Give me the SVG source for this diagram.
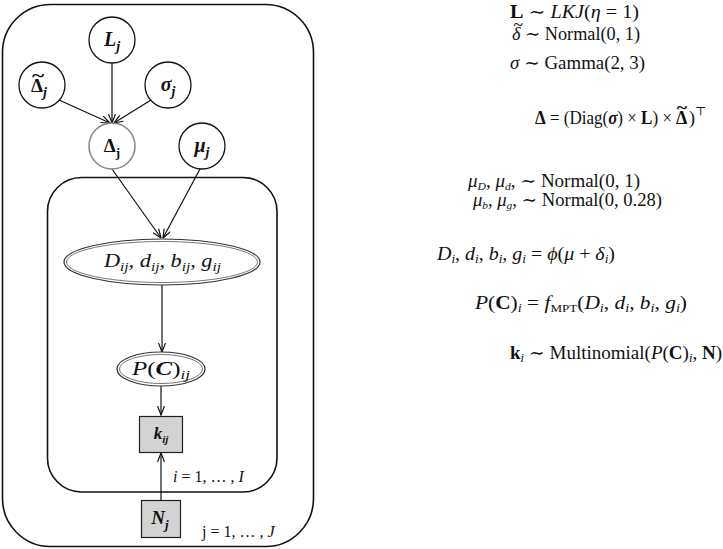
<svg xmlns="http://www.w3.org/2000/svg" width="723" height="549" viewBox="0 0 723 549">
  <style>
    .plate { fill: none; stroke: #111; stroke-width: 1.6; }
    .node { fill: #fff; stroke: #111; stroke-width: 1.3; }
    .node-grey { fill: #fff; stroke: #8a8a8a; stroke-width: 1.6; }
    .dbl-out { fill: #fff; stroke: #333; stroke-width: 1.2; }
    .dbl-in { fill: none; stroke: #777; stroke-width: 1; }
    .obs { fill: #d3d3d3; stroke: #222; stroke-width: 1.2; }
    .edge { stroke: #111; stroke-width: 1.2; fill: none; marker-end: url(#arrow); }
    .lbl { font-family: "Liberation Serif", "DejaVu Serif", serif; fill: #111; }
    .bi { font-weight: bold; font-style: italic; }
    .it { font-style: italic; }
    .b { font-weight: bold; }
    .eq { font-family: "Liberation Serif", "DejaVu Serif", serif; font-size: 18px; fill: #111; }
  </style>
  <defs>
    <marker id="arrow" viewBox="0 0 10 8" refX="9.5" refY="4" markerWidth="10" markerHeight="8" markerUnits="userSpaceOnUse" orient="auto">
      <path d="M0.5,0.5 L9.5,4 L0.5,7.5" fill="none" stroke="#111" stroke-width="1.2"/>
    </marker>
  </defs>

  <!-- plates -->
  <g id="plate-j">
    <rect class="plate" x="2.5" y="4.5" width="311" height="542" rx="48" ry="48"/>
    <text class="lbl" x="202" y="537" font-size="16">j = 1, … , <tspan class="it">J</tspan></text>
  </g>
  <g id="plate-i">
    <rect class="plate" x="47.5" y="177.5" width="229.5" height="314.5" rx="34" ry="34"/>
    <text class="lbl" x="173" y="482" font-size="16"><tspan class="it">i</tspan> = 1, … , <tspan class="it">I</tspan></text>
  </g>

  <!-- connectors -->
  <g id="edges">
    <line class="edge" x1="112" y1="63" x2="112" y2="123"/>
    <line class="edge" x1="59" y1="100" x2="110" y2="123"/>
    <line class="edge" x1="151" y1="100" x2="114" y2="123"/>
    <line class="edge" x1="112" y1="169" x2="161" y2="238"/>
    <line class="edge" x1="200" y1="169" x2="163" y2="238"/>
    <line class="edge" x1="162" y1="285" x2="162" y2="352"/>
    <line class="edge" x1="161" y1="386" x2="161" y2="415"/>
    <line class="edge" x1="161" y1="500" x2="161" y2="453"/>
  </g>

  <!-- nodes -->
  <g id="node-L">
    <circle class="node" cx="112" cy="40" r="23"/>
    <text class="lbl bi" x="112" y="46" font-size="20" text-anchor="middle">L<tspan dy="5" font-size="14">j</tspan></text>
  </g>
  <g id="node-Delta-tilde">
    <circle class="node" cx="42" cy="85" r="23"/>
    <text class="lbl b" x="31" y="92" font-size="19">Δ<tspan class="it" dy="5" font-size="14">j</tspan></text>
    <text class="lbl b" x="0" y="0" font-size="18" text-anchor="middle" transform="translate(38 82) scale(1.3 1)">~</text>
  </g>
  <g id="node-sigma">
    <circle class="node" cx="168" cy="85" r="23"/>
    <text class="lbl bi" x="168" y="91" font-size="20" text-anchor="middle">σ<tspan dy="5" font-size="14">j</tspan></text>
  </g>
  <g id="node-Delta">
    <circle class="node-grey" cx="112" cy="146" r="23"/>
    <text class="lbl b" x="112" y="152" font-size="19" text-anchor="middle" font-family="Liberation Sans, sans-serif">Δ<tspan dy="5" font-size="13">j</tspan></text>
  </g>
  <g id="node-mu">
    <circle class="node" cx="202" cy="146" r="23"/>
    <text class="lbl bi" x="202" y="152" font-size="20" text-anchor="middle">μ<tspan dy="5" font-size="14">j</tspan></text>
  </g>
  <g id="node-params">
    <ellipse class="dbl-out" cx="162" cy="262" rx="98" ry="23"/>
    <ellipse class="dbl-in" cx="162" cy="262" rx="95.5" ry="20.5"/>
    <text class="lbl it" x="104" y="267" font-size="19" textLength="117" lengthAdjust="spacingAndGlyphs">D<tspan dy="4" font-size="13">ij</tspan><tspan dy="-4">, d</tspan><tspan dy="4" font-size="13">ij</tspan><tspan dy="-4">, b</tspan><tspan dy="4" font-size="13">ij</tspan><tspan dy="-4">, g</tspan><tspan dy="4" font-size="13">ij</tspan></text>
  </g>
  <g id="node-P">
    <ellipse class="dbl-out" cx="161" cy="369" rx="44" ry="17"/>
    <ellipse class="dbl-in" cx="161" cy="369" rx="41.5" ry="14.5"/>
    <text class="lbl" x="132" y="375" font-size="19" textLength="58" lengthAdjust="spacingAndGlyphs"><tspan class="it">P</tspan>(<tspan class="bi">C</tspan>)<tspan class="it" dy="4" font-size="13">ij</tspan></text>
  </g>
  <g id="node-k">
    <rect class="obs" x="139.5" y="416.5" width="43" height="36"/>
    <text class="lbl bi" x="161" y="439" font-size="17" text-anchor="middle">k<tspan dy="4" font-size="11">ij</tspan></text>
  </g>
  <g id="node-N">
    <rect class="obs" x="141.5" y="500.5" width="39" height="37"/>
    <text class="lbl bi" x="160" y="524" font-size="19" text-anchor="middle">N<tspan dy="5" font-size="13">j</tspan></text>
  </g>

  <!-- model equations -->
  <g id="equations">
    <text class="eq" x="510" y="18" textLength="129" lengthAdjust="spacingAndGlyphs"><tspan class="b">L</tspan> ∼ <tspan class="it">LKJ</tspan>(<tspan class="it">η</tspan> = 1)</text>

    <text class="eq" x="512" y="40" textLength="128" lengthAdjust="spacingAndGlyphs"><tspan class="it">δ</tspan> ∼ Normal(0, 1)</text>
    <text class="eq" x="518" y="31" font-size="13" text-anchor="middle">~</text>

    <text class="eq" x="510" y="69" textLength="135" lengthAdjust="spacingAndGlyphs"><tspan class="it">σ</tspan> ∼ Gamma(2, 3)</text>

    <text class="eq" x="535" y="124" textLength="137" lengthAdjust="spacingAndGlyphs"><tspan class="b">Δ</tspan> = (Diag(<tspan class="bi">σ</tspan>) × <tspan class="b">L</tspan>) ×</text>
    <text class="eq b" x="676" y="124">Δ</text>
    <text class="eq b" x="0" y="0" font-size="11" text-anchor="middle" transform="translate(682 114) scale(1.1 1)">~</text>
    <text class="eq" x="689" y="124">)<tspan dy="-9" font-size="12">⊤</tspan></text>

    <text class="eq" x="468" y="187" textLength="172" lengthAdjust="spacingAndGlyphs"><tspan class="it">μ</tspan><tspan class="it" dy="3" font-size="11">D</tspan><tspan dy="-3">, </tspan><tspan class="it">μ</tspan><tspan class="it" dy="3" font-size="11">d</tspan><tspan dy="-3">, ∼ Normal(0, 1)</tspan></text>
    <text class="eq" x="473" y="206" textLength="189" lengthAdjust="spacingAndGlyphs"><tspan class="it">μ</tspan><tspan class="it" dy="3" font-size="11">b</tspan><tspan dy="-3">, </tspan><tspan class="it">μ</tspan><tspan class="it" dy="3" font-size="11">g</tspan><tspan dy="-3">, ∼ Normal(0, 0.28)</tspan></text>

    <text class="eq" x="437" y="260" textLength="178" lengthAdjust="spacingAndGlyphs"><tspan class="it">D</tspan><tspan class="it" dy="3" font-size="12">i</tspan><tspan dy="-3">, </tspan><tspan class="it">d</tspan><tspan class="it" dy="3" font-size="12">i</tspan><tspan dy="-3">, </tspan><tspan class="it">b</tspan><tspan class="it" dy="3" font-size="12">i</tspan><tspan dy="-3">, </tspan><tspan class="it">g</tspan><tspan class="it" dy="3" font-size="12">i</tspan><tspan dy="-3"> = </tspan><tspan class="it">ϕ</tspan>(<tspan class="it">μ</tspan> + <tspan class="it">δ</tspan><tspan class="it" dy="3" font-size="12">i</tspan><tspan dy="-3">)</tspan></text>

    <text class="eq" x="475" y="309" textLength="212" lengthAdjust="spacingAndGlyphs"><tspan class="it">P</tspan>(<tspan class="b">C</tspan>)<tspan class="it" dy="3" font-size="12">i</tspan><tspan dy="-3"> = </tspan><tspan class="it">f</tspan><tspan dy="3" font-size="11">MPT</tspan><tspan dy="-3">(</tspan><tspan class="it">D</tspan><tspan class="it" dy="3" font-size="12">i</tspan><tspan dy="-3">, </tspan><tspan class="it">d</tspan><tspan class="it" dy="3" font-size="12">i</tspan><tspan dy="-3">, </tspan><tspan class="it">b</tspan><tspan class="it" dy="3" font-size="12">i</tspan><tspan dy="-3">, </tspan><tspan class="it">g</tspan><tspan class="it" dy="3" font-size="12">i</tspan><tspan dy="-3">)</tspan></text>

    <text class="eq" x="510" y="359" textLength="212" lengthAdjust="spacingAndGlyphs"><tspan class="b">k</tspan><tspan class="it" dy="3" font-size="12">i</tspan><tspan dy="-3"> ∼ Multinomial(</tspan><tspan class="it">P</tspan>(<tspan class="b">C</tspan>)<tspan class="it" dy="3" font-size="12">i</tspan><tspan dy="-3">, </tspan><tspan class="b">N</tspan>)</text>
  </g>
</svg>
